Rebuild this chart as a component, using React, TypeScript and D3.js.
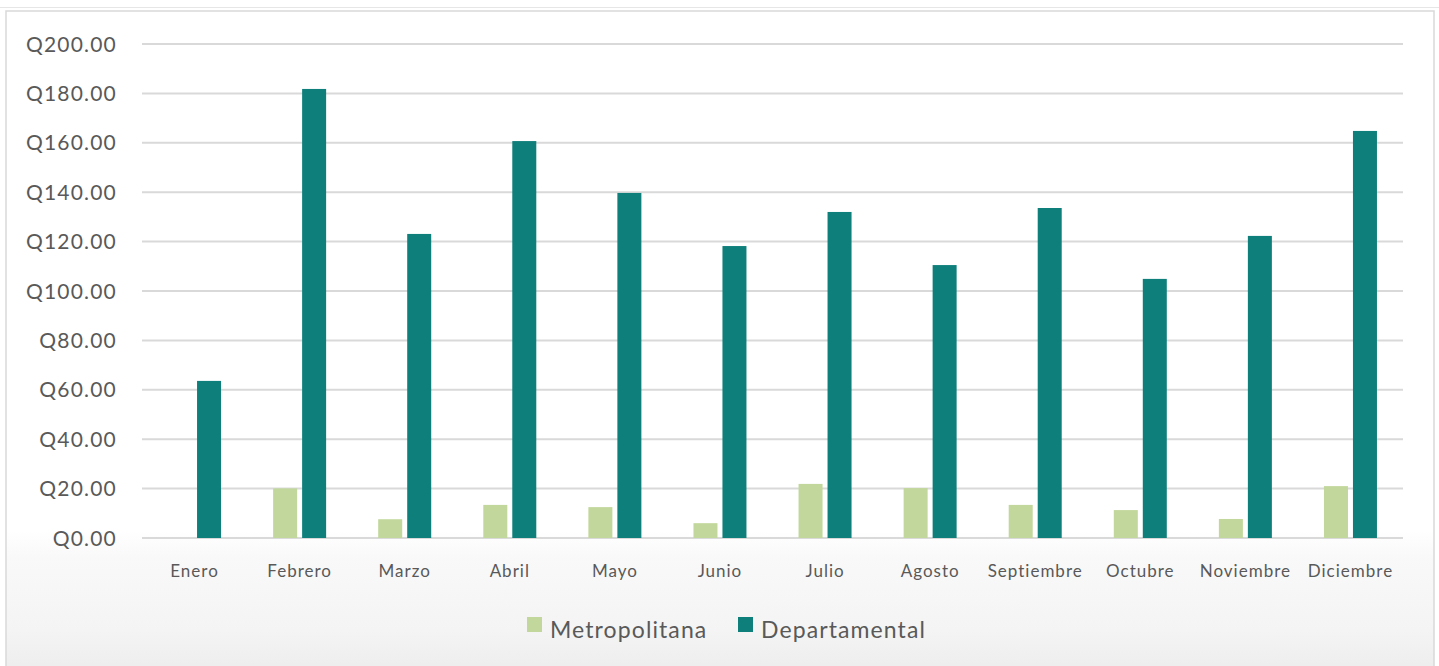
import React from "react";
import * as d3 from "d3";

const months = ["Enero","Febrero","Marzo","Abril","Mayo","Junio","Julio","Agosto","Septiembre","Octubre","Noviembre","Diciembre"];
const metropolitana = [0, 20.1, 7.6, 13.4, 12.5, 6, 21.9, 20.2, 13.4, 11.3, 7.7, 21];
const departamental = [63.6, 181.8, 123.1, 160.7, 139.7, 118.2, 132, 110.5, 133.6, 104.9, 122.3, 164.8];
const yTicks = [0, 20, 40, 60, 80, 100, 120, 140, 160, 180, 200];
const seriesNames = ["Metropolitana", "Departamental"];
const colors = ["#C2D79B", "#0E7F7B"];

const W = 1439, H = 666;
const plot = { left: 142, right: 1403, top: 44, bottom: 538 };
const font = "Lato, 'Open Sans', sans-serif";

export default function App() {
  const x = d3.scaleBand<string>().domain(months).range([plot.left, plot.right]).paddingInner(0).paddingOuter(0);
  const y = d3.scaleLinear().domain([0, 200]).range([plot.bottom, plot.top]);
  const barW = 24, gap = 5;
  const series = [metropolitana, departamental];

  return (
    <div style={{ position: "fixed", left: 0, top: 0 }}>
      <svg width={W} height={H} style={{ display: "block" }}>
        <defs>
          <linearGradient id="bg" x1="0" y1="0" x2="0" y2="1">
            <stop offset="0" stopColor="#ffffff" />
            <stop offset="0.78" stopColor="#ffffff" />
            <stop offset="0.82" stopColor="#f9f9f9" />
            <stop offset="0.93" stopColor="#f4f4f4" />
            <stop offset="1" stopColor="#ececec" />
          </linearGradient>
        </defs>
        <rect x={0} y={0} width={W} height={H} fill="#fff" />
        <line x1={0} x2={W} y1={7.5} y2={7.5} stroke="#e6e6e6" strokeWidth={1} />
        <rect x={6} y={11} width={1428} height={H} fill="url(#bg)" stroke="#d9d9d9" strokeWidth={1.5} />
        {yTicks.map(t => (
          <g key={t}>
            <line x1={plot.left} x2={plot.right} y1={y(t)} y2={y(t)} stroke="#d9d9d9" strokeWidth={2} />
            <text x={117} y={y(t)} dy="0.36em" textAnchor="end" fontFamily={font} fontSize={21} letterSpacing={1.2} fill="#595959">
              {"Q" + d3.format(".2f")(t)}
            </text>
          </g>
        ))}
        {months.map((m, i) => {
          const cx = (x(m) as number) + x.bandwidth() / 2;
          return (
            <g key={m}>
              {series.map((s, k) => {
                const v = s[i];
                if (!v) return null;
                const bx = k === 0 ? cx - gap / 2 - barW : cx + gap / 2;
                return <rect key={k} x={bx} y={y(v)} width={barW} height={y(0) - y(v)} fill={colors[k]} />;
              })}
              <text x={cx} y={577} textAnchor="middle" fontFamily={font} fontSize={17} letterSpacing={1} fill="#595959">{m}</text>
            </g>
          );
        })}
        {seriesNames.map((n, k) => {
          const lx = k === 0 ? 527 : 738;
          return (
            <g key={n}>
              <rect x={lx} y={617} width={15} height={15} fill={colors[k]} />
              <text x={lx + 23} y={638} fontFamily={font} fontSize={23} letterSpacing={1.1} fill="#595959">{n}</text>
            </g>
          );
        })}
      </svg>
    </div>
  );
}
